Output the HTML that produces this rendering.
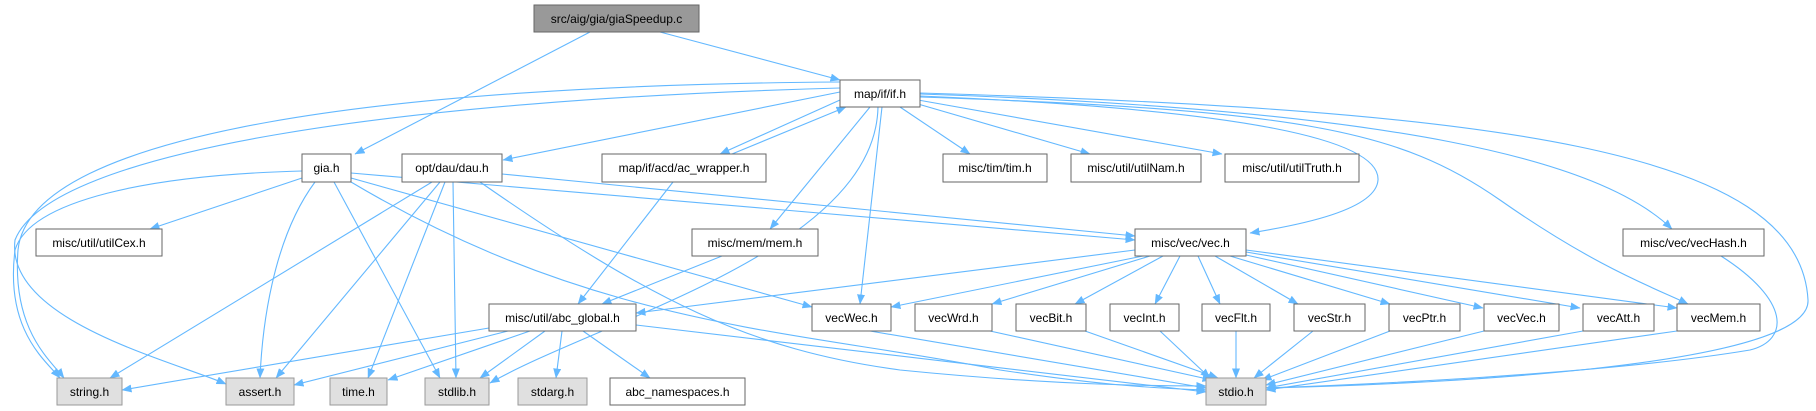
<!DOCTYPE html>
<html><head><meta charset="utf-8"><style>
body{margin:0;background:#fff;width:1816px;height:411px;overflow:hidden}
svg{display:block}
text{font-family:"Liberation Sans",Arial,sans-serif;font-size:12px;fill:#000}
.e{fill:none;stroke:#63b8ff;stroke-width:1.1;marker-end:url(#a)}
.n{fill:#fff;stroke:#666;stroke-width:1}
.s{fill:#e0e0e0;stroke:#999;stroke-width:1}
</style></head><body>
<svg width="1816" height="411" viewBox="0 0 1816 411">
<defs><marker id="a" markerWidth="10" markerHeight="8" refX="9.5" refY="4" orient="auto" markerUnits="userSpaceOnUse"><path d="M0,0 L10,4 L0,8 z" fill="#63b8ff"/></marker></defs>
<g>
<path class="e" d="M590,32 L355,154"/>
<path class="e" d="M660,32 L840,80"/>
<path class="e" d="M840,82 C400,85 30,130 18,250 C12,330 50,360 64,378"/>
<path class="e" d="M840,88 C400,100 50,150 15,240 C5,320 170,360 226,384"/>
<path class="e" d="M840,92 L503,160"/>
<path class="e" d="M840,100 L720,154"/>
<path class="e" d="M732,154 L846,107"/>
<path class="e" d="M870,107 L770,229"/>
<path class="e" d="M878,107 C875,250 600,320 490,383"/>
<path class="e" d="M882,107 L860,304"/>
<path class="e" d="M900,107 L970,154"/>
<path class="e" d="M918,104 L1090,154"/>
<path class="e" d="M918,100 L1222,154"/>
<path class="e" d="M920,96 C1250,110 1380,140 1378,180 C1376,210 1300,225 1250,233"/>
<path class="e" d="M920,97 C1300,110 1400,130 1500,200 C1600,270 1660,290 1688,304"/>
<path class="e" d="M920,94 C1400,110 1600,160 1672,229"/>
<path class="e" d="M920,93 C1500,110 1800,150 1808,300 C1812,370 1400,385 1266,388"/>
<path class="e" d="M302,171 C150,175 30,200 15,250 C5,330 45,360 60,378"/>
<path class="e" d="M302,178 L150,229"/>
<path class="e" d="M315,182 C272,240 262,330 260,378"/>
<path class="e" d="M334,182 L440,378"/>
<path class="e" d="M351,173 L1135,240"/>
<path class="e" d="M351,178 L812,307"/>
<path class="e" d="M351,182 C600,330 800,330 1000,370 C1100,385 1150,388 1206,390"/>
<path class="e" d="M432,182 L110,378"/>
<path class="e" d="M440,182 L276,378"/>
<path class="e" d="M445,182 L368,378"/>
<path class="e" d="M453,182 L456,378"/>
<path class="e" d="M480,182 C650,300 750,350 900,370 C1050,385 1150,386 1206,386"/>
<path class="e" d="M502,174 L1135,236"/>
<path class="e" d="M673,182 L578,304"/>
<path class="e" d="M722,256 L602,304"/>
<path class="e" d="M1135,250 L636,313"/>
<path class="e" d="M1143,256 L891,307"/>
<path class="e" d="M1150,256 L992,304"/>
<path class="e" d="M1163,256 L1075,304"/>
<path class="e" d="M1180,256 L1155,304"/>
<path class="e" d="M1198,256 L1220,304"/>
<path class="e" d="M1215,256 L1298,304"/>
<path class="e" d="M1230,256 L1390,304"/>
<path class="e" d="M1246,255 L1483,308"/>
<path class="e" d="M1246,252 L1580,308"/>
<path class="e" d="M1246,250 L1677,308"/>
<path class="e" d="M489,328 L122,390"/>
<path class="e" d="M508,331 L294,385"/>
<path class="e" d="M530,331 L388,380"/>
<path class="e" d="M545,331 L480,378"/>
<path class="e" d="M562,331 L556,378"/>
<path class="e" d="M583,331 L650,378"/>
<path class="e" d="M636,325 L1206,392"/>
<path class="e" d="M870,331 L1206,388"/>
<path class="e" d="M990,331 L1212,380"/>
<path class="e" d="M1085,331 L1218,378"/>
<path class="e" d="M1160,331 L1210,378"/>
<path class="e" d="M1236,331 L1236,378"/>
<path class="e" d="M1313,331 L1254,378"/>
<path class="e" d="M1390,331 L1262,380"/>
<path class="e" d="M1484,331 L1266,385"/>
<path class="e" d="M1583,331 L1266,388"/>
<path class="e" d="M1677,331 L1266,390"/>
<path class="e" d="M1721,256 C1790,300 1790,340 1750,350 C1600,375 1350,385 1266,388"/>
</g>
<g>
<rect x="534" y="5" width="165" height="27" fill="#999" stroke="#666"/><text x="616.5" y="23" text-anchor="middle">src/aig/gia/giaSpeedup.c</text>
<rect class="n" x="840" y="80" width="80" height="27"/><text x="880" y="98" text-anchor="middle">map/if/if.h</text>
<rect class="n" x="302" y="154" width="49" height="28"/><text x="326.5" y="172" text-anchor="middle">gia.h</text>
<rect class="n" x="402" y="154" width="100" height="28"/><text x="452" y="172" text-anchor="middle">opt/dau/dau.h</text>
<rect class="n" x="602" y="154" width="164" height="28"/><text x="684" y="172" text-anchor="middle">map/if/acd/ac_wrapper.h</text>
<rect class="n" x="943" y="154" width="104" height="28"/><text x="995" y="172" text-anchor="middle">misc/tim/tim.h</text>
<rect class="n" x="1071" y="154" width="130" height="28"/><text x="1136" y="172" text-anchor="middle">misc/util/utilNam.h</text>
<rect class="n" x="1225" y="154" width="134" height="28"/><text x="1292" y="172" text-anchor="middle">misc/util/utilTruth.h</text>
<rect class="n" x="36" y="229" width="126" height="27"/><text x="99" y="247" text-anchor="middle">misc/util/utilCex.h</text>
<rect class="n" x="692" y="229" width="126" height="27"/><text x="755" y="247" text-anchor="middle">misc/mem/mem.h</text>
<rect class="n" x="1135" y="229" width="111" height="27"/><text x="1190.5" y="247" text-anchor="middle">misc/vec/vec.h</text>
<rect class="n" x="1623" y="229" width="141" height="27"/><text x="1693.5" y="247" text-anchor="middle">misc/vec/vecHash.h</text>
<rect class="n" x="489" y="304" width="147" height="27"/><text x="562.5" y="322" text-anchor="middle">misc/util/abc_global.h</text>
<rect class="n" x="812" y="304" width="79" height="27"/><text x="851.5" y="322" text-anchor="middle">vecWec.h</text>
<rect class="n" x="915" y="304" width="77" height="27"/><text x="953.5" y="322" text-anchor="middle">vecWrd.h</text>
<rect class="n" x="1016" y="304" width="70" height="27"/><text x="1051" y="322" text-anchor="middle">vecBit.h</text>
<rect class="n" x="1110" y="304" width="69" height="27"/><text x="1144.5" y="322" text-anchor="middle">vecInt.h</text>
<rect class="n" x="1202" y="304" width="68" height="27"/><text x="1236" y="322" text-anchor="middle">vecFlt.h</text>
<rect class="n" x="1294" y="304" width="71" height="27"/><text x="1329.5" y="322" text-anchor="middle">vecStr.h</text>
<rect class="n" x="1389" y="304" width="71" height="27"/><text x="1424.5" y="322" text-anchor="middle">vecPtr.h</text>
<rect class="n" x="1484" y="304" width="75" height="27"/><text x="1521.5" y="322" text-anchor="middle">vecVec.h</text>
<rect class="n" x="1583" y="304" width="71" height="27"/><text x="1618.5" y="322" text-anchor="middle">vecAtt.h</text>
<rect class="n" x="1677" y="304" width="83" height="27"/><text x="1718.5" y="322" text-anchor="middle">vecMem.h</text>
<rect class="s" x="57" y="378" width="65" height="27"/><text x="89.5" y="396" text-anchor="middle">string.h</text>
<rect class="s" x="226" y="378" width="68" height="27"/><text x="260" y="396" text-anchor="middle">assert.h</text>
<rect class="s" x="330" y="378" width="57" height="27"/><text x="358.5" y="396" text-anchor="middle">time.h</text>
<rect class="s" x="425" y="378" width="64" height="27"/><text x="457" y="396" text-anchor="middle">stdlib.h</text>
<rect class="s" x="518" y="378" width="69" height="27"/><text x="552.5" y="396" text-anchor="middle">stdarg.h</text>
<rect class="n" x="610" y="378" width="135" height="27"/><text x="677.5" y="396" text-anchor="middle">abc_namespaces.h</text>
<rect class="s" x="1206" y="378" width="60" height="27"/><text x="1236" y="396" text-anchor="middle">stdio.h</text>
</g>
</svg>
</body></html>
